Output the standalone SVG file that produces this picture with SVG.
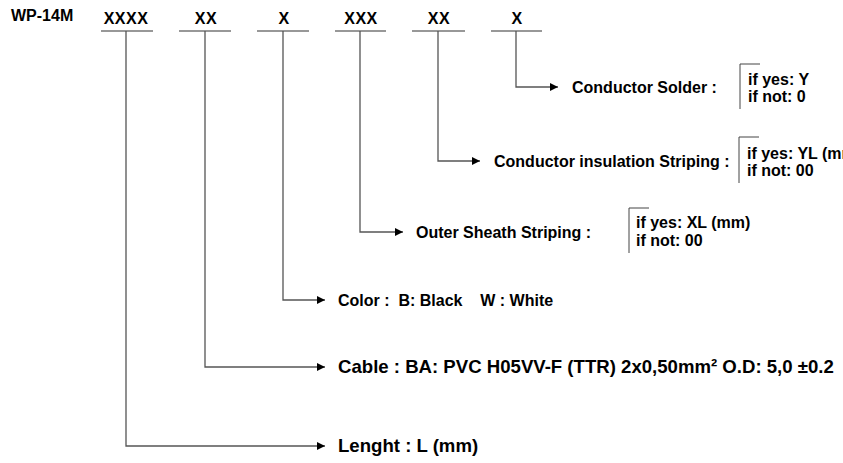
<svg xmlns="http://www.w3.org/2000/svg" width="843" height="463" viewBox="0 0 843 463">
<defs>
<marker id="arr" markerWidth="9" markerHeight="9" refX="8" refY="4.5" orient="auto" markerUnits="userSpaceOnUse">
<path d="M0,0.5 L8,4.5 L0,8.5 Z" fill="#000"/>
</marker>
<style>
text{font-family:"Liberation Sans",Arial,sans-serif;font-weight:bold;font-size:16px;fill:#000}
.x{text-anchor:middle;letter-spacing:0.5px}
.big{font-size:18.6px}
.u{stroke:#777;stroke-width:1.5;fill:none}
.c{stroke:#555;stroke-width:1.3;fill:none}
.b{stroke:#444;stroke-width:1;fill:none}
</style>
</defs>
<rect width="843" height="463" fill="#fff"/>
<g id="title"><text x="11" y="21">WP-14M</text></g>
<g id="codes">
<text class="x" x="126" y="24">XXXX</text>
<text class="x" x="206" y="24">XX</text>
<text class="x" x="284" y="24">X</text>
<text class="x" x="361" y="24">XXX</text>
<text class="x" x="439" y="24">XX</text>
<text class="x" x="517" y="24">X</text>
<path class="u" d="M101,31H153 M179,31H231 M257,31H309 M335,31H386 M412,31H465 M491,31H542"/>
</g>
<g id="connectors">
<path class="c" d="M126,31V446H325" marker-end="url(#arr)"/>
<path class="c" d="M205,31V367H325" marker-end="url(#arr)"/>
<path class="c" d="M283,31V300H325" marker-end="url(#arr)"/>
<path class="c" d="M360,31V232H403" marker-end="url(#arr)"/>
<path class="c" d="M438,31V161H480" marker-end="url(#arr)"/>
<path class="c" d="M516,31V87H558" marker-end="url(#arr)"/>
</g>
<g id="length"><text class="big" x="338" y="452">Lenght : L (mm)</text></g>
<g id="cable"><text class="big" x="338" y="373">Cable : BA: PVC H05VV-F (TTR) 2x0,50mm² O.D: 5,0 ±0.2</text></g>
<g id="color"><text x="338" y="306" xml:space="preserve">Color :  B: Black    W : White</text></g>
<g id="outer">
<text x="416" y="238">Outer Sheath Striping :</text>
<path class="b" d="M649,208H629V253"/>
<text x="636" y="228">if yes: XL (mm)</text>
<text x="636" y="246">if not: 00</text>
</g>
<g id="insulation">
<text x="494" y="167">Conductor insulation Striping :</text>
<path class="b" d="M759,137H739V183"/>
<text x="747" y="159">if yes: YL (mm)</text>
<text x="747" y="176">if not: 00</text>
</g>
<g id="solder">
<text x="572" y="93">Conductor Solder :</text>
<path class="b" d="M760,64H740V109"/>
<text x="748" y="85">if yes: Y</text>
<text x="748" y="102">if not: 0</text>
</g>
</svg>
